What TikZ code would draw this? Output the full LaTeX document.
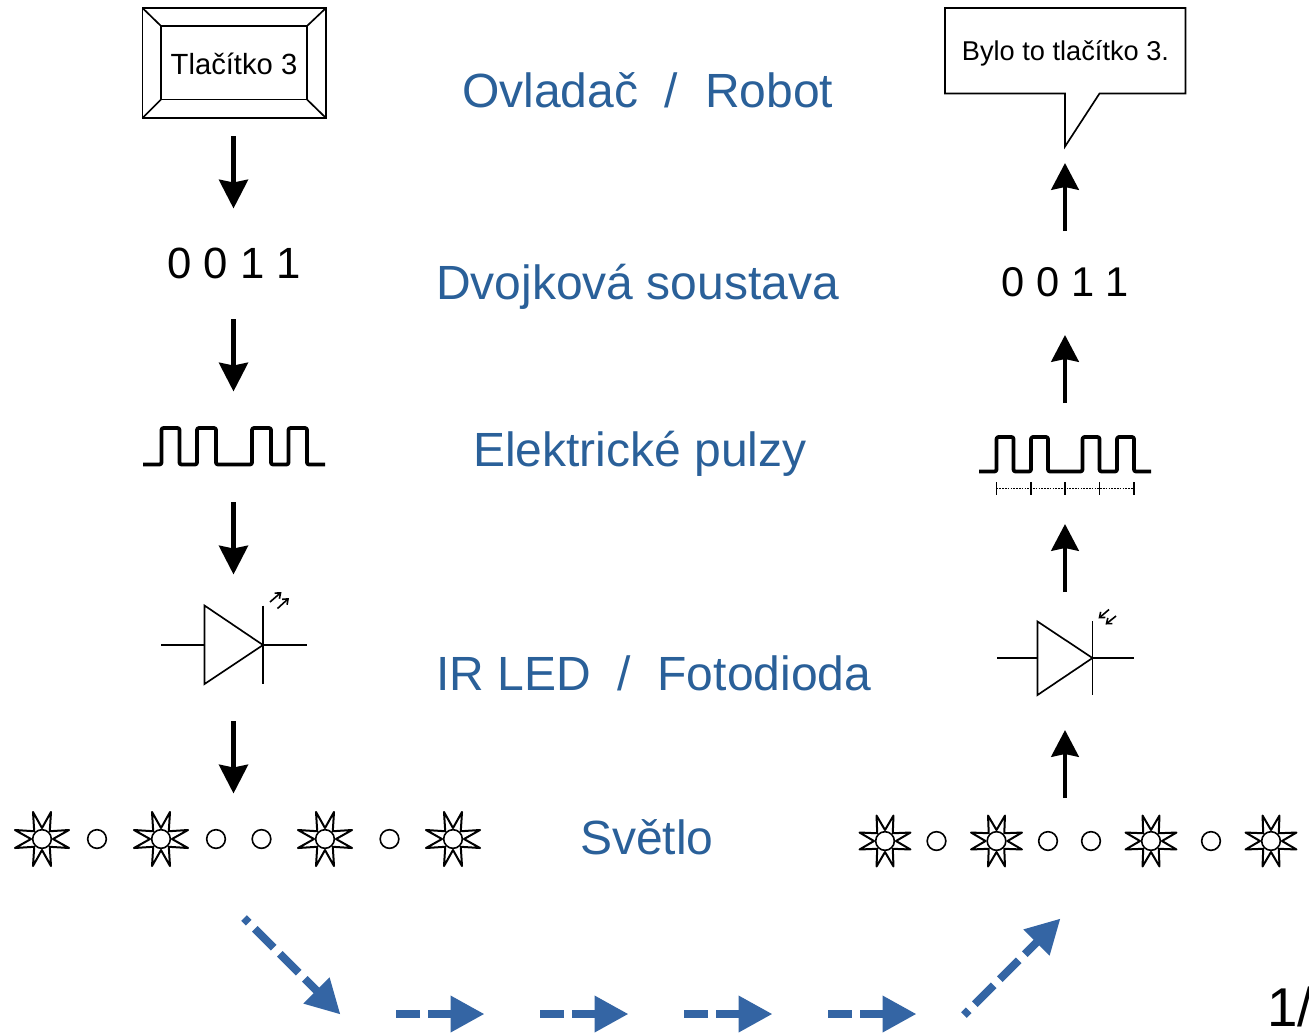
\documentclass[tikz,border=0pt]{standalone}
\usepackage{fontspec}
\setmainfont{Liberation Sans}
\usetikzlibrary{arrows.meta,calc}
\definecolor{heading}{HTML}{2A6099}
\definecolor{flow}{HTML}{3465A4}
\tikzset{
  x=0.75pt,y=-0.75pt,
  thinline/.style={line width=1.25pt,line join=miter},
  heading/.style={anchor=base west,inner sep=0pt,text=heading,font=\fontsize{36}{36}\selectfont},
  bigdown/.style={line width=3.9pt,-{Stealth[length=21.5pt,width=21.5pt,inset=2pt]}},
  bigup/.style={line width=3.5pt,-{Stealth[length=20pt,width=20.5pt,inset=2pt]}},
  flowarrow/.style={draw=flow,fill=none,line width=6pt,-{Triangle[length=25.5pt,width=26pt,fill=flow]}},
  flowflat/.style={flowarrow,dash pattern=on 18pt off 6pt on 60pt},
  flowdiag/.style={flowarrow,dash pattern=on 5pt off 6.5pt on 20pt off 6.5pt on 20pt off 6.5pt on 90pt},
  pulse/.style={line width=2.8pt,line join=round,rounded corners=1.5pt},
  minia/.style={line width=1.2pt,-{Straight Barb[length=3.5pt,width=5.5pt]}},
  lit/.style={line width=1.5pt,line join=round},
  dark/.style={circle,draw,line width=1.2pt,fill=white,inner sep=0pt,minimum size=14pt},
}
\newcommand{\litstar}[4]{% name, x, y, outer radius
  \draw[lit] ($(#2,#3)+(18.43:#4)$)
    -- ($(#2,#3)+(45:11)$) -- ($(#2,#3)+(71.57:#4)$)
    -- ($(#2,#3)+(90:11)$) -- ($(#2,#3)+(108.43:#4)$)
    -- ($(#2,#3)+(135:11)$) -- ($(#2,#3)+(161.57:#4)$)
    -- ($(#2,#3)+(180:11)$) -- ($(#2,#3)+(198.43:#4)$)
    -- ($(#2,#3)+(225:11)$) -- ($(#2,#3)+(251.57:#4)$)
    -- ($(#2,#3)+(270:11)$) -- ($(#2,#3)+(288.43:#4)$)
    -- ($(#2,#3)+(315:11)$) -- ($(#2,#3)+(341.57:#4)$)
    -- ($(#2,#3)+(0:11)$) -- cycle;
  \node[dark] (#1) at (#2,#3) {};
}
\begin{document}
\begin{tikzpicture}
\fill[white] (0,0) rectangle (1309,1033);
\path[use as bounding box] (0,0) rectangle (1309,1033);
\clip (0,0) rectangle (1309,1033);

% button
\coordinate (bo1) at (142.5,8);
\coordinate (bo2) at (326,8);
\coordinate (bo3) at (326,118);
\coordinate (bo4) at (142.5,118);
\coordinate (bi1) at (161,26);
\coordinate (bi2) at (307,26);
\coordinate (bi3) at (307,99.5);
\coordinate (bi4) at (161,99.5);
\draw[thinline,line width=1.4pt] (bo1) rectangle (bo3);
\draw[thinline,line width=1.4pt] (bi1) rectangle (bi3);
\draw[thinline] (bo1)--(bi1) (bo2)--(bi2) (bo3)--(bi3) (bo4)--(bi4);
\node[inner sep=0pt,font=\fontsize{21.9}{22}\selectfont] (btn) at (234,63.5) {Tlačítko 3};

% callout
\coordinate (c1) at (945,8);
\coordinate (c2) at (1185.5,8);
\coordinate (c3) at (1185.5,93.5);
\coordinate (c4) at (1099.5,93.5);
\coordinate (c5) at (1065,146.5);
\coordinate (c6) at (1065,93.5);
\coordinate (c7) at (945,93.5);
\draw[thinline] (c1)--(c2)--(c3)--(c4)--(c5)--(c6)--(c7)--cycle;
\node[inner sep=0pt,font=\fontsize{20.4}{21}\selectfont] (said) at (1065.5,53.5) {Bylo to tlačítko 3.};

% headings
\node[heading] (h1) at (462,107) {Ovladač\ \ /\ \ Robot};
\node[heading] (h2) at (436,299) {Dvojková soustava};
\node[heading] (h3) at (473,466) {Elektrické pulzy};
\node[heading] (h4) at (436,690) {IR LED\ \ /\ \ Fotodioda};
\node[heading] (h5) at (580,854) {Světlo};

% binary
\node[anchor=base,inner sep=0pt,font=\fontsize{32.8}{33}\selectfont] (binl) at (234.3,278.5) {0 0 1 1};
\node[anchor=base,inner sep=0pt,font=\fontsize{31.2}{31}\selectfont] (binr) at (1065.5,296.5) {0 0 1 1};

% pulses
\draw[pulse] (143,464.5) -- (161.5,464.5) -- (161.5,428) -- (179.5,428) -- (179.5,464.5) -- (197,464.5) -- (197,428) -- (216,428) -- (216,464.5) -- (252,464.5) -- (252,428) -- (271,428) -- (271,464.5) -- (288.5,464.5) -- (288.5,428) -- (307,428) -- (307,464.5) -- (325,464.5);
\draw[pulse] (979,471.5) -- (996.5,471.5) -- (996.5,437) -- (1013.5,437) -- (1013.5,471.5) -- (1031,471.5) -- (1031,437) -- (1048,437) -- (1048,471.5) -- (1082.5,471.5) -- (1082.5,437) -- (1099.5,437) -- (1099.5,471.5) -- (1117,471.5) -- (1117,437) -- (1134,437) -- (1134,471.5) -- (1151,471.5);
\draw[line width=1pt,dash pattern=on 1.2pt off 0.9pt] (996.5,488.5) -- (1134,488.5);
\foreach \tx in {996.5,1031,1065,1099.5,1134}
  \draw[line width=1pt] (\tx,482) -- (\tx,495);

% LED
\coordinate (la) at (161,645);
\coordinate (lb) at (204.5,645);
\coordinate (lk) at (263,645);
\coordinate (lc) at (306.5,645);
\draw[thinline] (la)--(lb) (lk)--(lc);
\draw[thinline] (204.5,605.5)--(lk)--(204.5,684)--cycle;
\draw[thinline] (263,605.5)--(263,684);
\draw[minia] (270,602)--(281.5,592);
\draw[minia] (277.5,608.5)--(289,598);

% photodiode
\coordinate (pa) at (997,658);
\coordinate (pb) at (1037.5,658);
\coordinate (pk) at (1092.5,658);
\coordinate (pc) at (1133.5,658);
\draw[thinline] (pa)--(pb) (pk)--(pc);
\draw[thinline] (1037.5,621.5)--(pk)--(1037.5,695)--cycle;
\draw[thinline] (1092.5,621)--(1092.5,695);
\draw[minia] (1109,609.5)--(1098.5,618.5);
\draw[minia] (1116,616)--(1105.5,624.5);

% light, left
\litstar{sl1}{42}{839}{28.5}
\litstar{sl2}{161}{839}{28.5}
\litstar{sl3}{325}{839}{28.5}
\litstar{sl4}{453}{839}{28.5}
\node[dark] (dl1) at (97,839) {};
\node[dark] (dl2) at (216,839) {};
\node[dark] (dl3) at (261.5,839) {};
\node[dark] (dl4) at (389.5,839) {};

% light, right
\litstar{sr1}{885}{841}{26.8}
\litstar{sr2}{996.5}{841}{26.8}
\litstar{sr3}{1151}{841}{26.8}
\litstar{sr4}{1271}{841}{26.8}
\node[dark] (dr1) at (936.5,841) {};
\node[dark] (dr2) at (1048,841) {};
\node[dark] (dr3) at (1091,841) {};
\node[dark] (dr4) at (1211,841) {};

% black arrows, left column
\coordinate (a1s) at (233.5,136); \coordinate (a1e) at (233.5,208.5);
\coordinate (a2s) at (233.5,319); \coordinate (a2e) at (233.5,391.5);
\coordinate (a3s) at (233.5,502); \coordinate (a3e) at (233.5,574.5);
\coordinate (a4s) at (233.5,721); \coordinate (a4e) at (233.5,793.5);
\draw[bigdown] (a1s)--(a1e);
\draw[bigdown] (a2s)--(a2e);
\draw[bigdown] (a3s)--(a3e);
\draw[bigdown] (a4s)--(a4e);

% black arrows, right column
\coordinate (b1s) at (1065,798); \coordinate (b1e) at (1065,730);
\coordinate (b2s) at (1065,592); \coordinate (b2e) at (1065,524);
\coordinate (b3s) at (1065,403); \coordinate (b3e) at (1065,335);
\coordinate (b4s) at (1065,231); \coordinate (b4e) at (1065,163);
\draw[bigup] (b1s)--(b1e);
\draw[bigup] (b2s)--(b2e);
\draw[bigup] (b3s)--(b3e);
\draw[bigup] (b4s)--(b4e);

% blue flow arrows
\coordinate (f1s) at (244,918); \coordinate (f1e) at (340.5,1014.5);
\coordinate (f2s) at (396,1014); \coordinate (f2e) at (484.5,1014);
\coordinate (f3s) at (540,1014); \coordinate (f3e) at (628.5,1014);
\coordinate (f4s) at (684,1014); \coordinate (f4e) at (772.5,1014);
\coordinate (f5s) at (828,1014); \coordinate (f5e) at (916.5,1014);
\coordinate (f6s) at (964,1015); \coordinate (f6e) at (1060.5,918.5);
\draw[flowdiag] (f1s)--(f1e);
\draw[flowflat] (f2s)--(f2e);
\draw[flowflat] (f3s)--(f3e);
\draw[flowflat] (f4s)--(f4e);
\draw[flowflat] (f5s)--(f5e);
\draw[flowdiag] (f6s)--(f6e);

% cut-off page number
\node[anchor=base west,inner sep=0pt,font=\fontsize{41}{41}\selectfont] (pg) at (1267,1026) {1/};
\end{tikzpicture}
\end{document}
